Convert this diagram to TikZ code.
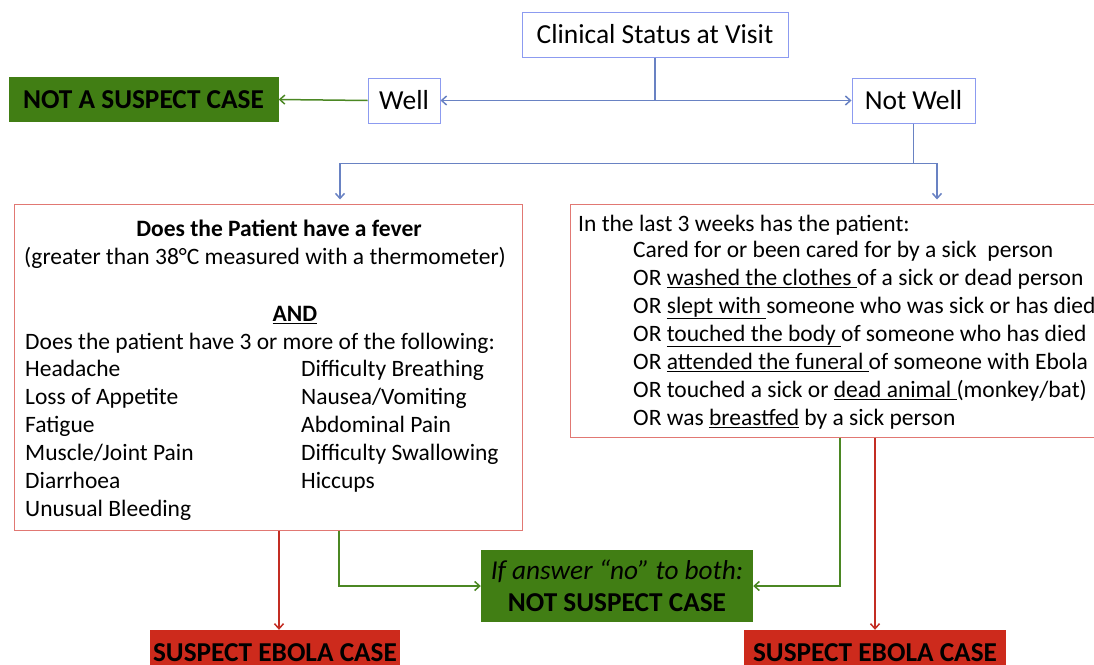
\documentclass[tikz,border=0pt]{standalone}
\usepackage{fontspec}
\setmainfont{Carlito}
\usetikzlibrary{arrows.meta,positioning}
\definecolor{boxblue}{RGB}{140,155,240}
\definecolor{lineblue}{RGB}{105,130,195}
\definecolor{boxred}{RGB}{225,120,115}
\definecolor{linered}{RGB}{195,45,35}
\definecolor{fillred}{RGB}{205,42,28}
\definecolor{fillgreen}{RGB}{65,126,20}
\definecolor{linegreen}{RGB}{75,135,35}
\tikzset{
  status/.style={draw=boxblue, line width=1pt, inner sep=0pt,
    font=\fontsize{27.5}{32}\selectfont},
  panel/.style={draw=boxred, line width=1pt, inner sep=0pt},
  outcome/.style={inner sep=0pt, font=\fontsize{27.3}{32}\bfseries\selectfont},
  txt/.style={inner sep=0pt, anchor=west, font=\fontsize{23.5}{28}\selectfont,
    text height=16pt, text depth=5pt},
  bluearr/.style={draw=lineblue, line width=1.5pt, -{Straight Barb[length=5pt,width=9pt]}},
  greenarr/.style={draw=linegreen, line width=1.5pt, -{Straight Barb[length=5pt,width=9pt]}},
  redarr/.style={draw=linered, line width=1.5pt, -{Straight Barb[length=5pt,width=9pt]}}
}
\begin{document}
\begin{tikzpicture}[x=1pt,y=-1pt]
\useasboundingbox (0,0) rectangle (1094,664);
\clip (0,0) rectangle (1094,664);
% top of the tree
\node[status, minimum width=266pt, minimum height=45pt] (clinical) at (655,34.5) {Clinical Status at Visit};
\node[status, minimum width=72pt, minimum height=45pt] (well) at (404,100.5) {Well};
\node[status, minimum width=123pt, minimum height=45pt] (notwell) at (913.5,100.5) {Not Well};
\node[outcome, fill=fillgreen, minimum width=270pt, minimum height=45pt] (notsuspect) at (143.5,99.5) {NOT A SUSPECT CASE};

% the two questions
\node[panel, minimum width=508pt, minimum height=326pt] (fever) at (268,367) {};
\node[panel, minimum width=530pt, minimum height=233pt] (contact) at (835,320.5) {};

\node[txt, anchor=center, font=\fontsize{23.5}{28}\bfseries\selectfont] (fvq) at (279,231) {Does the Patient have a fever};
\node[txt, anchor=center] (fvt) at (265,259) {(greater than 38°C measured with a thermometer)};
\node[txt, anchor=center, font=\fontsize{23.5}{28}\bfseries\selectfont] (fvand) at (295,316) {\underline{AND}};
\node[txt] (fvsym) at (25,344) {Does the patient have 3 or more of the following:};
\foreach \s [count=\i] in {Headache, Loss of Appetite, Fatigue, Muscle/Joint Pain, Diarrhoea, Unusual Bleeding}
  \node[txt] (syma\i) at (25,{371+28*(\i-1)}) {\s};
\foreach \s [count=\i] in {Difficulty Breathing, Nausea/Vomiting, Abdominal Pain, Difficulty Swallowing, Hiccups}
  \node[txt] (symb\i) at (301,{371+28*(\i-1)}) {\s};

\node[txt] (ctq) at (578,226) {In the last 3 weeks has the patient:};
\foreach \s [count=\i] in {{Cared for or been cared for by a sick\ \ person},
    {OR \underline{washed the clothes\ }of a sick or dead person},
    {OR \underline{slept with\ }someone who was sick or has died},
    {OR \underline{touched the body\ }of someone who has died},
    {OR \underline{attended the funeral\ }of someone with Ebola},
    {OR touched a sick or \underline{dead animal\ }(monkey/bat)},
    {OR was \underline{breastfed} by a sick person}}
  \node[txt] (ct\i) at (633,{252+28*(\i-1)}) {\s};

% outcomes
\node[outcome, fill=fillgreen, minimum width=272pt, minimum height=72pt, align=center,
  font=\fontsize{27.3}{32}\selectfont] (bothno) at (617,586)
  {\textit{If answer “no” to both:}\\\textbf{NOT SUSPECT CASE}};
\node[outcome, fill=fillred, minimum width=250pt, minimum height=45pt] (suspleft) at (275,652.5) {SUSPECT EBOLA CASE};
\node[outcome, fill=fillred, minimum width=262pt, minimum height=45pt] (suspright) at (875,652.5) {SUSPECT EBOLA CASE};

% connectors
\draw[bluearr] (clinical.south) |- (well.east);
\draw[bluearr] (clinical.south) |- (notwell.west);
\draw[greenarr] (well.west) -- (notsuspect.east);
\draw[bluearr] (notwell.south) -- ++(0,40) -| ([xshift=72pt,yshift=4pt]fever.north);
\draw[bluearr] (notwell.south) -- ++(0,40) -| ([xshift=102pt,yshift=4pt]contact.north);
\draw[redarr] ([xshift=4pt]fever.south -| suspleft.north) -- ([xshift=4pt]suspleft.north);
\draw[redarr] (contact.south -| suspright.north) -- (suspright.north);
\draw[greenarr] ([xshift=71pt]fever.south) |- (bothno.west);
\draw[greenarr] ([xshift=5pt]contact.south) |- (bothno.east);
\end{tikzpicture}
\end{document}
